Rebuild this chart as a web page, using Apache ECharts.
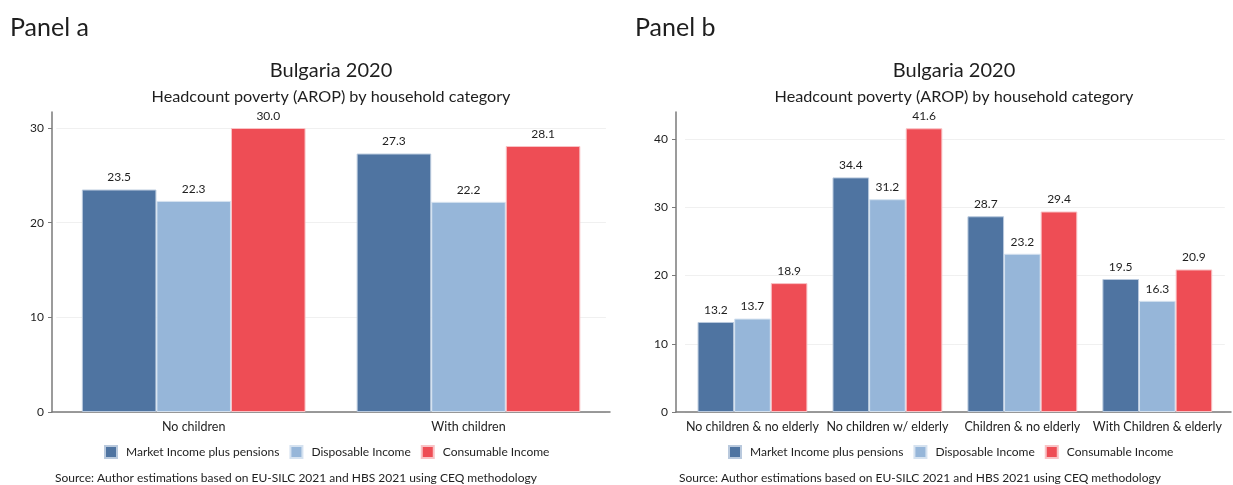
<!DOCTYPE html>
<html>
<head>
<meta charset="utf-8">
<script src="https://cdn.jsdelivr.net/npm/echarts@6/dist/echarts.min.js"></script>
<style>
  html, body { margin: 0; padding: 0; background: #ffffff; }
  #chart { width: 1233px; height: 485px; }
</style>
</head>
<body>
<div id="chart"></div>
<script>
// Headcount poverty (AROP), Bulgaria 2020
const seriesNames = ['Market Income plus pensions', 'Disposable Income', 'Consumable Income'];

// Panel a: by presence of children
const catsA = ['No children', 'With children'];
const marketA = [23.5, 27.3];
const disposableA = [22.3, 22.2];
const consumableA = [30.0, 28.1];
const ticksA = [0, 10, 20, 30];

// Panel b: by children / elderly composition
const catsB = ['No children & no elderly', 'No children w/ elderly', 'Children & no elderly', 'With Children & elderly'];
const marketB = [13.2, 34.4, 28.7, 19.5];
const disposableB = [13.7, 31.2, 23.2, 16.3];
const consumableB = [18.9, 41.6, 29.4, 20.9];
const ticksB = [0, 10, 20, 30, 40];

const titleText = 'Bulgaria 2020';
const subtitleText = 'Headcount poverty (AROP) by household category';
const sourceText = 'Source: Author estimations based on EU-SILC 2021 and HBS 2021 using CEQ methodology';

const colors = ['#4F74A1', '#96B6D9', '#EE4D55'];
const borders = ['#B9C9DD', '#D5E2F0', '#F9C3C6'];
const FONT = 'Lato, "Open Sans", sans-serif';
const TXT = '#1e1e1e';
const AXIS = '#7a7a7a';

const chart = echarts.init(document.getElementById('chart'), null, { renderer: 'canvas' });

function barSeries(name, data, idx, axisIdx) {
  return {
    name: name,
    type: 'bar',
    xAxisIndex: axisIdx,
    yAxisIndex: axisIdx,
    data: data,
    barGap: '0%',
    barCategoryGap: '18.6%',
    clip: false,
    itemStyle: { color: colors[idx], borderColor: borders[idx], borderWidth: 1 },
    label: {
      show: true,
      position: 'top',
      distance: 6,
      fontFamily: FONT,
      fontSize: 12,
      color: TXT,
      formatter: p => p.value.toFixed(1)
    },
    emphasis: { disabled: true },
    silent: true
  };
}

function textTitle(text, left, top, size, align) {
  return {
    text: text,
    left: left,
    top: top,
    textAlign: align || 'left',
    padding: 0,
    textStyle: { fontFamily: FONT, fontSize: size, fontWeight: 'normal', color: TXT }
  };
}

// Main plotting grids (bars, ticks, labels) and frame grids (axis lines only)
const mainA = { left: 56.3, top: 128, width: 549.6, height: 284 };
const frameA = { left: 52, top: 112, width: 558, height: 300 };
const mainB = { left: 685, top: 139.2, width: 539.8, height: 272.8 };
const frameB = { left: 676, top: 112, width: 555, height: 300 };

function catAxis(gridIndex, cats) {
  return {
    type: 'category',
    gridIndex: gridIndex,
    data: cats,
    axisLine: { show: false },
    axisTick: { show: false },
    axisLabel: { fontFamily: FONT, fontSize: 12.5, color: TXT, margin: 8, interval: 0 }
  };
}

function valAxis(gridIndex, max, offset, ticks) {
  return {
    type: 'value',
    gridIndex: gridIndex,
    min: 0,
    max: max,
    interval: 10,
    offset: offset,
    axisLine: { show: false },
    axisTick: { show: true, length: 4, lineStyle: { color: AXIS, width: 1 } },
    axisLabel: {
      fontFamily: FONT, fontSize: 12, color: TXT, margin: 8,
      formatter: v => (ticks.indexOf(v) >= 0 ? String(v) : '')
    },
    splitLine: { show: true, lineStyle: { color: '#f0f0f0', width: 1 } }
  };
}

function frameAxis(gridIndex) {
  return {
    type: 'value',
    gridIndex: gridIndex,
    min: 0,
    max: 1,
    axisLine: { show: true, onZero: false, lineStyle: { color: AXIS, width: 1.5 } },
    axisTick: { show: false },
    axisLabel: { show: false },
    splitLine: { show: false }
  };
}

const legendCommon = {
  data: seriesNames,
  icon: 'rect',
  itemWidth: 12,
  itemHeight: 12,
  itemGap: 10,
  top: 445,
  padding: 0,
  selectedMode: false,
  textStyle: { fontFamily: FONT, fontSize: 12, color: TXT, padding: [0, 0, 0, 4] }
};

const option = {
  backgroundColor: '#ffffff',
  animation: false,
  title: [
    textTitle('Panel a', 10, 15, 25),
    textTitle('Panel b', 635, 15, 25),
    textTitle(titleText, 331, 61, 20, 'center'),
    textTitle(subtitleText, 331, 89, 16.2, 'center'),
    textTitle(titleText, 954, 61, 20, 'center'),
    textTitle(subtitleText, 954, 89, 16.2, 'center'),
    textTitle(sourceText, 55, 472, 12),
    textTitle(sourceText, 679, 472, 12)
  ],
  legend: [
    Object.assign({}, legendCommon, { left: 104 }),
    Object.assign({}, legendCommon, { left: 728 })
  ],
  grid: [mainA, frameA, mainB, frameB],
  xAxis: [
    catAxis(0, catsA),
    frameAxis(1),
    catAxis(2, catsB),
    frameAxis(3)
  ],
  yAxis: [
    valAxis(0, 30, 4.3, ticksA),
    frameAxis(1),
    valAxis(2, 40, 9, ticksB),
    frameAxis(3)
  ],
  series: [
    barSeries(seriesNames[0], marketA, 0, 0),
    barSeries(seriesNames[1], disposableA, 1, 0),
    barSeries(seriesNames[2], consumableA, 2, 0),
    barSeries(seriesNames[0], marketB, 0, 2),
    barSeries(seriesNames[1], disposableB, 1, 2),
    barSeries(seriesNames[2], consumableB, 2, 2)
  ]
};

chart.setOption(option);
</script>
</body>
</html>
